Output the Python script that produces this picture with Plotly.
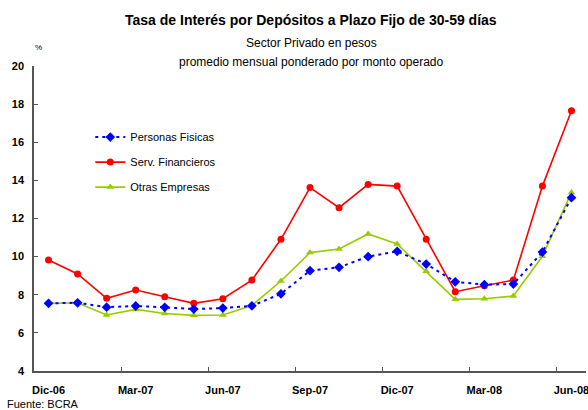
import plotly.graph_objects as go

months = ["Dic-06", "Ene-07", "Feb-07", "Mar-07", "Abr-07", "May-07", "Jun-07",
          "Jul-07", "Ago-07", "Sep-07", "Oct-07", "Nov-07", "Dic-07", "Ene-08",
          "Feb-08", "Mar-08", "Abr-08", "May-08", "Jun-08"]
personas_fisicas = [7.55, 7.58, 7.35, 7.41, 7.34, 7.25, 7.30, 7.42, 8.05, 9.26,
                    9.44, 10.00, 10.28, 9.61, 8.68, 8.53, 8.56, 10.24, 13.09]
serv_financieros = [9.82, 9.09, 7.81, 8.25, 7.90, 7.55, 7.79, 8.77, 10.91, 13.62,
                    12.57, 13.79, 13.70, 10.91, 8.16, 8.47, 8.77, 13.70, 17.65]
otras_empresas = [7.55, 7.58, 6.94, 7.23, 7.02, 6.92, 6.94, 7.44, 8.72, 10.21,
                  10.40, 11.19, 10.66, 9.23, 7.76, 7.79, 7.93, 10.02, 13.37]
tick_months = ["Dic-06", "Mar-07", "Jun-07", "Sep-07", "Dic-07", "Mar-08", "Jun-08"]
y_ticks = [4, 6, 8, 10, 12, 14, 16, 18, 20]

FONT = "Liberation Sans"

fig = go.Figure()
fig.add_trace(go.Scatter(
    x=months, y=serv_financieros, name="Serv. Financieros", mode="lines+markers",
    line=dict(color="#FF0000", width=1.6),
    marker=dict(symbol="circle", size=7, color="#FF0000"),
    legend="legend2"))
fig.add_trace(go.Scatter(
    x=months, y=otras_empresas, name="Otras Empresas", mode="lines+markers",
    line=dict(color="#99CC00", width=1.6),
    marker=dict(symbol="triangle-up", size=7, color="#99CC00"),
    legend="legend3"))
fig.add_trace(go.Scatter(
    x=months, y=personas_fisicas, name="Personas Fisicas", mode="lines+markers",
    line=dict(color="#0000FF", width=2, dash="3px,4px"),
    marker=dict(symbol="diamond", size=7.5, color="#0000FF"),
    legend="legend"))

leg_common = dict(font=dict(family=FONT, size=11, color="#000000"),
                  bgcolor="rgba(0,0,0,0)", xanchor="left", yanchor="middle",
                  x=0.102)
fig.update_layout(
    width=588, height=410,
    margin=dict(l=34, r=2, t=66, b=39, autoexpand=False),
    paper_bgcolor="white", plot_bgcolor="white",
    font=dict(family=FONT, color="#000000"),
    showlegend=True,
    legend=dict(y=0.767, **leg_common),
    legend2=dict(y=0.685, **leg_common),
    legend3=dict(y=0.603, **leg_common),
    xaxis=dict(
        type="category", categoryorder="array", categoryarray=months,
        range=[-0.5, 18.5], automargin=False,
        tickmode="array", tickvals=tick_months, ticktext=tick_months,
        tickangle=0,
        tickson="boundaries", ticks="inside", ticklen=4, tickcolor="#555555",
        showline=True, linecolor="#555555", linewidth=1.5,
        showgrid=False, zeroline=False,
        tickfont=dict(family=FONT, size=11, color="#000000", weight="bold"),
        ticklabelstandoff=8,
    ),
    yaxis=dict(
        range=[4, 20], tickvals=y_ticks, automargin=False,
        ticks="inside", ticklen=4, tickcolor="#555555",
        showline=True, linecolor="#555555", linewidth=1.5,
        showgrid=False, zeroline=False,
        tickfont=dict(family=FONT, size=11, color="#000000", weight="bold"),
        ticklabelstandoff=6,
    ),
    annotations=[
        dict(text="<b>Tasa de Interés por Depósitos a Plazo Fijo de 30-59 días</b>",
             xref="paper", yref="paper", x=(311-34)/552, y=(371-20)/305,
             xanchor="center", yanchor="middle", showarrow=False,
             font=dict(family=FONT, size=14)),
        dict(text="Sector Privado en pesos",
             xref="paper", yref="paper", x=(311-34)/552, y=(371-43)/305,
             xanchor="center", yanchor="middle", showarrow=False,
             font=dict(family=FONT, size=12)),
        dict(text="promedio mensual ponderado por monto operado",
             xref="paper", yref="paper", x=(311-34)/552, y=(371-62)/305,
             xanchor="center", yanchor="middle", showarrow=False,
             font=dict(family=FONT, size=12)),
        dict(text="%",
             xref="paper", yref="paper", x=(38-34)/552, y=(371-47)/305,
             xanchor="center", yanchor="middle", showarrow=False,
             font=dict(family=FONT, size=8)),
        dict(text="Fuente: BCRA",
             xref="paper", yref="paper", x=(5-34)/552, y=(371-404)/305,
             xanchor="left", yanchor="middle", showarrow=False,
             font=dict(family=FONT, size=11)),
    ],
)

fig.write_html("out.html",
               config={"displayModeBar": False},
               post_script="document.body.style.margin='0';document.body.style.overflow='hidden';")
